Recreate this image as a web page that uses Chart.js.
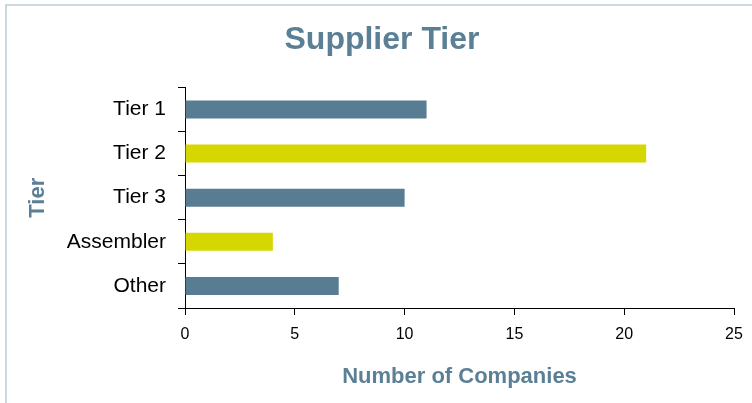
<!DOCTYPE html>
<html>
<head>
<meta charset="utf-8">
<script src="https://cdn.jsdelivr.net/npm/chart.js@4/dist/chart.umd.min.js"></script>
<style>
  html, body { margin: 0; padding: 0; background: #ffffff; overflow: hidden; }
  #wrap { position: relative; width: 752px; height: 403px; }
  #frame { position: absolute; left: 5px; top: 4px; width: 800px; height: 500px;
           border: 2px solid #C9D9DF; box-sizing: border-box; }
  canvas { position: absolute; left: 0; top: 0; }
</style>
</head>
<body>
<div id="wrap">
  <div id="frame"></div>
  <canvas id="c" width="752" height="403"></canvas>
</div>
<script>
const categories = ["Tier 1", "Tier 2", "Tier 3", "Assembler", "Other"];
const companyCounts = [11, 21, 10, 4, 7];
const barColors = ["#587C91", "#D6D600", "#587C91", "#D6D600", "#587C91"];
const xTickValues = [0, 5, 10, 15, 20, 25];

const FONT = "'Liberation Sans', Arial, sans-serif";
const TITLE_COLOR = "#5B7F95";

new Chart(document.getElementById("c"), {
  type: "bar",
  data: {
    labels: categories,
    datasets: [{
      data: companyCounts,
      backgroundColor: barColors,
      borderWidth: 0,
      barPercentage: 0.41,
      categoryPercentage: 1.0
    }]
  },
  options: {
    indexAxis: "y",
    responsive: false,
    animation: false,
    devicePixelRatio: 1,
    layout: { padding: { left: 12, right: 0, top: 0, bottom: 0 } },
    plugins: {
      legend: { display: false },
      tooltip: { enabled: false },
      title: {
        display: true,
        text: "Supplier Tier",
        color: TITLE_COLOR,
        font: { family: FONT, size: 32, weight: "bold", lineHeight: 1.2 },
        padding: { top: 21, bottom: 28 }
      }
    },
    scales: {
      x: {
        type: "linear",
        min: 0,
        max: 25,
        afterBuildTicks: (s) => { s.ticks = xTickValues.map(v => ({ value: v })); },
        afterFit: (s) => { s.height = 403 - 308; s.paddingRight = 18; },
        ticks: {
          color: "#000000",
          font: { family: FONT, size: 16 },
          padding: 10,
          maxRotation: 0
        },
        grid: {
          display: true,
          drawOnChartArea: false,
          drawTicks: true,
          tickLength: 7,
          color: "#000000"
        },
        border: { display: true, color: "#000000", width: 1 },
        title: {
          display: true,
          text: "Number of Companies",
          color: TITLE_COLOR,
          font: { family: FONT, size: 22, weight: "bold", lineHeight: 1.2 },
          padding: { top: 0, bottom: 13 }
        }
      },
      y: {
        afterFit: (s) => { s.width = 185 - 12; },
        ticks: {
          color: "#000000",
          font: { family: FONT, size: 21 },
          padding: 12
        },
        grid: {
          display: true,
          offset: true,
          drawOnChartArea: false,
          drawTicks: true,
          tickLength: 7,
          color: "#000000"
        },
        border: { display: true, color: "#000000", width: 1 },
        title: {
          display: true,
          text: "Tier",
          color: TITLE_COLOR,
          font: { family: FONT, size: 22, weight: "bold", lineHeight: 1.2 },
          padding: { top: 13, bottom: 0 }
        }
      }
    }
  }
});
</script>
</body>
</html>
